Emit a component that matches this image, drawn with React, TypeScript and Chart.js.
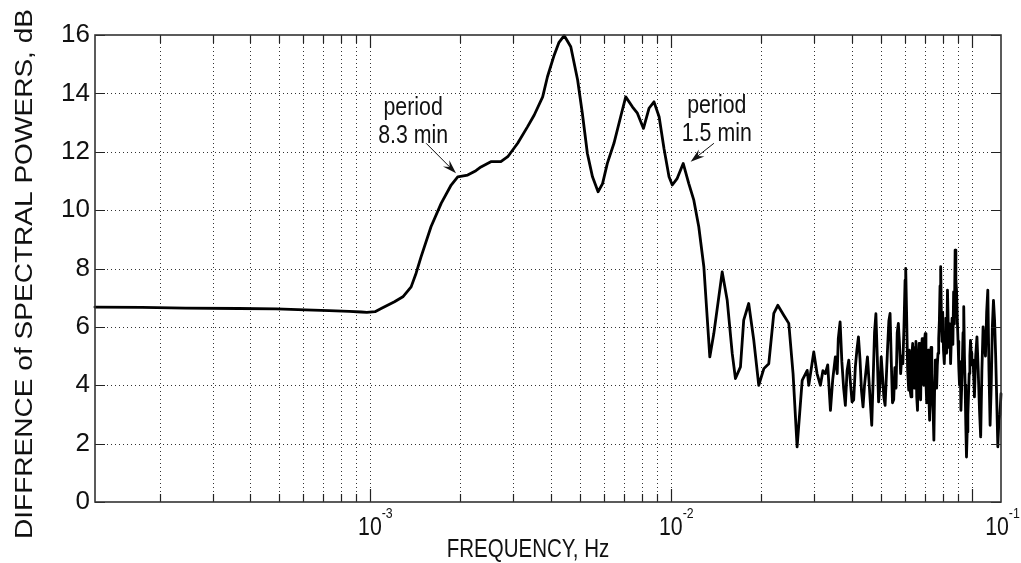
import React, { useEffect, useRef } from "react";
import { Chart, registerables } from "chart.js";

Chart.register(...registerables);

// ---- data ----
// low-frequency part: flat level, rise and the main peaks
const LOW_FREQ_HZ: number[] = [
  1.22e-4, 1.75e-4, 2.44e-4, 3.66e-4, 4.88e-4, 6.1e-4, 7.32e-4, 8.54e-4, 9.36e-4, 9.77e-4,
  1.04e-3, 1.09e-3, 1.207e-3, 1.287e-3, 1.371e-3, 1.424e-3, 1.479e-3, 1.596e-3, 1.725e-3, 1.862e-3,
  1.958e-3, 2.113e-3, 2.25e-3, 2.339e-3, 2.523e-3, 2.723e-3, 2.871e-3, 3.097e-3, 3.342e-3, 3.516e-3,
  3.75e-3, 3.89e-3, 4.095e-3, 4.25e-3, 4.42e-3, 4.65e-3, 4.9e-3, 5.08e-3, 5.28e-3, 5.49e-3,
  5.73e-3, 5.93e-3, 6.15e-3, 6.47e-3, 6.81e-3, 7.08e-3, 7.45e-3, 7.74e-3, 8.11e-3, 8.46e-3,
  8.79e-3, 9.14e-3, 9.49e-3, 9.86e-3,
];
const LOW_DB: number[] = [
  6.68, 6.67, 6.64, 6.63, 6.62, 6.58, 6.56, 6.53, 6.51, 6.5,
  6.52, 6.63, 6.86, 7.03, 7.37, 7.84, 8.4, 9.43, 10.23, 10.86,
  11.14, 11.2, 11.35, 11.48, 11.66, 11.66, 11.83, 12.29, 12.86, 13.26,
  13.88, 14.57, 15.31, 15.75, 15.98, 15.6, 14.46, 13.32, 11.94, 11.14,
  10.63, 10.91, 11.6, 12.29, 13.2, 13.88, 13.54, 13.32, 12.8, 13.49,
  13.71, 13.2, 12.1, 11.14,
];

// 0.01 – 0.036 Hz: fall-off and slow oscillations
const MID_FREQ_HZ: number[] = [
  1.011e-2, 1.05e-2, 1.099e-2, 1.147e-2, 1.192e-2, 1.238e-2, 1.287e-2, 1.32e-2, 1.347e-2, 1.389e-2,
  1.481e-2, 1.539e-2, 1.599e-2, 1.639e-2, 1.703e-2, 1.746e-2, 1.814e-2, 1.886e-2, 1.959e-2, 2.037e-2,
  2.115e-2, 2.198e-2, 2.266e-2, 2.372e-2, 2.465e-2, 2.547e-2, 2.627e-2, 2.731e-2, 2.838e-2, 2.872e-2,
  2.984e-2, 3.06e-2, 3.14e-2, 3.2e-2, 3.26e-2, 3.32e-2, 3.39e-2, 3.45e-2, 3.52e-2, 3.57e-2,
];
const MID_DB: number[] = [
  10.86, 11.09, 11.6, 10.91, 10.34, 9.43, 8.06, 6.34, 4.97, 5.77,
  7.88, 6.91, 5.09, 4.23, 4.63, 6.23, 6.8, 5.54, 4.0, 4.57,
  4.74, 6.46, 6.74, 6.4, 6.12, 4.4, 1.89, 4.17, 4.51, 4.0,
  5.14, 4.4, 4.0, 4.5, 4.4, 4.7, 3.14, 4.2, 4.97, 4.4,
];

// 0.036 – 0.062 Hz: noisy band
const NOISE1_FREQ_HZ: number[] = [
  0.036, 0.0365, 0.037, 0.0375, 0.038, 0.0385, 0.039, 0.0395, 0.04, 0.0405,
  0.041, 0.0415, 0.042, 0.0425, 0.043, 0.0435, 0.044, 0.0445, 0.045, 0.0455,
  0.046, 0.0465, 0.047, 0.0475, 0.048, 0.0485, 0.049, 0.0495, 0.05, 0.0505,
  0.051, 0.0515, 0.052, 0.0525, 0.053, 0.0535, 0.054, 0.0545, 0.055, 0.0555,
  0.056, 0.0565, 0.057, 0.0575, 0.058, 0.0585, 0.059, 0.0595, 0.06, 0.0603,
  0.0607, 0.0612, 0.0617,
];
const NOISE1_DB: number[] = [
  5.6, 6.17, 4.8, 3.9, 3.31, 4.5, 4.86, 4.1, 3.43, 3.5,
  4.6, 5.2, 5.66, 4.9, 3.8, 3.26, 4.0, 4.5, 4.97, 4.2,
  3.4, 2.63, 4.2, 5.8, 6.45, 5.0, 3.43, 4.0, 4.97, 4.3,
  3.6, 3.31, 4.3, 5.3, 6.2, 6.46, 4.8, 3.4, 3.5, 4.6,
  3.9, 5.8, 6.12, 5.4, 4.4, 5.0, 4.74, 6.0, 7.6, 8.0,
  6.5, 4.5, 3.83,
];

// 0.062 – 0.08 Hz: dense band
const NOISE2_FREQ_HZ: number[] = [
  0.062, 0.0624, 0.0628, 0.0632, 0.0636, 0.064, 0.0644, 0.0648, 0.0652, 0.0656,
  0.066, 0.0664, 0.0668, 0.0672, 0.0676, 0.068, 0.0684, 0.0688, 0.0692, 0.0696,
  0.07, 0.0704, 0.0708, 0.0712, 0.0716, 0.072, 0.0724, 0.0728, 0.0732, 0.0736,
  0.074, 0.0744, 0.0748, 0.0752, 0.0756, 0.076, 0.0764, 0.0768, 0.0772, 0.0776,
  0.078, 0.0784, 0.0788, 0.0792, 0.0796,
];
const NOISE2_DB: number[] = [
  5.2, 3.8, 3.6, 5.0, 5.43, 4.2, 3.9, 5.3, 5.5, 3.6,
  3.14, 4.8, 5.43, 3.9, 3.5, 5.2, 5.6, 4.3, 4.0, 5.5,
  5.77, 4.1, 3.4, 4.9, 5.2, 3.6, 2.8, 4.6, 5.3, 4.4,
  3.4, 3.0, 2.12, 3.8, 4.86, 4.2, 3.9, 4.7, 5.09, 5.6,
  6.2, 7.4, 8.06, 6.4, 5.5,
];

// 0.08 – 0.1 Hz: dense band
const NOISE3_FREQ_HZ: number[] = [
  0.08, 0.0805, 0.081, 0.0815, 0.082, 0.0825, 0.083, 0.0835, 0.084, 0.0845,
  0.085, 0.0855, 0.086, 0.0865, 0.087, 0.0875, 0.088, 0.0885, 0.089, 0.0895,
  0.09, 0.0905, 0.091, 0.0915, 0.092, 0.0925, 0.093, 0.0935, 0.094, 0.0945,
  0.095, 0.0955, 0.096, 0.0965, 0.097, 0.0975, 0.098, 0.0985, 0.099, 0.0995,
];
const NOISE3_DB: number[] = [
  6.5, 5.2, 4.74, 5.6, 6.3, 5.1, 7.26, 6.0, 5.3, 6.1,
  4.74, 5.6, 6.3, 5.4, 7.2, 6.1, 8.63, 7.6, 7.2, 6.2,
  5.5, 4.6, 4.0, 4.8, 3.14, 3.9, 4.8, 5.8, 6.69, 5.0,
  4.0, 2.6, 1.54, 2.4, 3.0, 3.7, 4.4, 5.0, 5.54, 5.1,
];

// 0.1 – 0.125 Hz: highest frequencies
const NOISE4_FREQ_HZ: number[] = [
  0.1, 0.101, 0.102, 0.103, 0.104, 0.105, 0.106, 0.107, 0.108, 0.109,
  0.11, 0.111, 0.112, 0.113, 0.114, 0.115, 0.116, 0.117, 0.118, 0.119,
  0.12, 0.121, 0.122, 0.123, 0.124, 0.125,
];
const NOISE4_DB: number[] = [
  4.7, 4.86, 3.6, 5.0, 5.66, 4.5, 3.2, 2.23, 4.5, 6.0,
  5.4, 5.0, 6.5, 7.26, 4.5, 2.63, 4.0, 6.0, 6.91, 6.23,
  5.0, 3.5, 1.89, 2.8, 3.0, 3.71,
];

const FREQ_HZ: number[] = [
  ...LOW_FREQ_HZ, ...MID_FREQ_HZ, ...NOISE1_FREQ_HZ, ...NOISE2_FREQ_HZ, ...NOISE3_FREQ_HZ,
  ...NOISE4_FREQ_HZ,
];
const DIFF_DB: number[] = [
  ...LOW_DB, ...MID_DB, ...NOISE1_DB, ...NOISE2_DB, ...NOISE3_DB, ...NOISE4_DB,
];

const Y_TICKS: number[] = [0, 2, 4, 6, 8, 10, 12, 14, 16];
const X_MIN = 1 / 8192;
const X_MAX = 1 / 8;
const X_DECADE_BASES: number[] = [1e-4, 1e-3, 1e-2, 1e-1];
const X_MINOR_MULTS: number[] = [1, 2, 3, 4, 5, 6, 7, 8, 9];
const X_MAJOR_VALUES: number[] = [1e-3, 1e-2, 1e-1];
const X_LABEL_VALUES: number[] = [1e-3, 1e-2, X_MAX];
const X_LABEL_EXPONENTS: string[] = ["-3", "-2", "-1"];
const X_TITLE = "FREQUENCY, Hz";
const Y_TITLE = "DIFFRENCE of SPECTRAL POWERS, dB";

const ANNOT_LINES: string[][] = [["period", "8.3 min"], ["period", "1.5 min"]];
const ANNOT_TEXT_AT: number[][] = [[1.392e-3, 13.26], [1.421e-2, 13.33]];
const ANNOT_ARROW_FROM: number[][] = [[1.538e-3, 12.29], [1.39e-2, 12.29]];
const ANNOT_ARROW_TO: number[][] = [[1.933e-3, 11.26], [1.1634e-2, 11.66]];

// ---- helpers ----
function hasFont(name: string): boolean {
  const c = document.createElement("canvas").getContext("2d");
  if (!c) return false;
  c.font = "40px monospace";
  const a = c.measureText("mmmWWiil10").width;
  c.font = `40px '${name}', monospace`;
  return Math.abs(c.measureText("mmmWWiil10").width - a) > 0.5;
}

const HAS_NARROW = typeof document !== "undefined" && hasFont("Liberation Sans Narrow");
const NARROW_FAMILY = HAS_NARROW ? "'Liberation Sans Narrow'" : "'Liberation Sans', Arial, sans-serif";
const NARROW_SX = HAS_NARROW ? 1 : 0.82;
const TEXT_COLOR = "#111";

function drawText(
  ctx: CanvasRenderingContext2D,
  s: string,
  x: number,
  y: number,
  size: number,
  align: "left" | "center" | "right",
  sx: number = NARROW_SX,
  family: string = NARROW_FAMILY
): number {
  ctx.save();
  ctx.font = `${size}px ${family}`;
  ctx.textBaseline = "alphabetic";
  ctx.textAlign = "left";
  const w = ctx.measureText(s).width * sx;
  const x0 = align === "center" ? x - w / 2 : align === "right" ? x - w : x;
  ctx.translate(x0, y);
  ctx.scale(sx, 1);
  ctx.fillStyle = TEXT_COLOR;
  ctx.fillText(s, 0, 0);
  ctx.restore();
  return w;
}

function gridXValues(): number[] {
  const out: number[] = [];
  for (const b of X_DECADE_BASES) {
    for (const m of X_MINOR_MULTS) {
      const v = b * m;
      if (v > X_MIN * 1.0001 && v < X_MAX * 0.9999) out.push(v);
    }
  }
  return out;
}

const framePlugin = {
  id: "matlabFrame",
  beforeDatasetsDraw(chart: any) {
    const { ctx, chartArea: a, scales } = chart;
    const xs = scales.x;
    const ys = scales.y;
    ctx.save();
    ctx.strokeStyle = "rgba(0,0,0,0.8)";
    ctx.lineWidth = 1;
    ctx.setLineDash([1, 3]);
    for (const v of gridXValues()) {
      const px = Math.round(xs.getPixelForValue(v)) + 0.5;
      ctx.beginPath();
      ctx.moveTo(px, a.top);
      ctx.lineTo(px, a.bottom);
      ctx.stroke();
    }
    for (const v of Y_TICKS) {
      if (v <= 0 || v >= 16) continue;
      const py = Math.round(ys.getPixelForValue(v)) + 0.5;
      ctx.beginPath();
      ctx.moveTo(a.left, py);
      ctx.lineTo(a.right, py);
      ctx.stroke();
    }
    ctx.restore();
  },
  afterDatasetsDraw(chart: any) {
    const { ctx, chartArea: a, scales } = chart;
    const xs = scales.x;
    const ys = scales.y;
    ctx.save();
    // inward ticks
    ctx.strokeStyle = "#222";
    ctx.lineWidth = 1.2;
    ctx.setLineDash([]);
    for (const v of gridXValues()) {
      const px = Math.round(xs.getPixelForValue(v)) + 0.5;
      const major = X_MAJOR_VALUES.some((m) => Math.abs(m - v) / m < 1e-6);
      const len = major ? 13 : 8;
      ctx.beginPath();
      ctx.moveTo(px, a.bottom);
      ctx.lineTo(px, a.bottom - len);
      ctx.moveTo(px, a.top);
      ctx.lineTo(px, a.top + len);
      ctx.stroke();
    }
    for (const v of Y_TICKS) {
      const py = Math.round(ys.getPixelForValue(v)) + 0.5;
      ctx.beginPath();
      ctx.moveTo(a.left, py);
      ctx.lineTo(a.left + 10, py);
      ctx.moveTo(a.right, py);
      ctx.lineTo(a.right - 10, py);
      ctx.stroke();
    }
    // frame
    ctx.strokeStyle = "#333";
    ctx.lineWidth = 1.6;
    ctx.strokeRect(a.left, a.top, a.right - a.left, a.bottom - a.top);

    // x tick labels (10 with superscript exponent)
    X_LABEL_VALUES.forEach((v, i) => {
      let px = xs.getPixelForValue(v);
      ctx.save();
      ctx.font = `26px ${NARROW_FAMILY}`;
      const w10 = ctx.measureText("10").width * NARROW_SX;
      ctx.restore();
      if (px + w10 / 2 + 14 > a.right + 20) px = a.right - 4;
      drawText(ctx, "10", px - w10 / 2, a.bottom + 33, 26, "left");
      drawText(ctx, X_LABEL_EXPONENTS[i], px + w10 / 2, a.bottom + 16, 15, "left");
    });

    // x title
    drawText(ctx, X_TITLE, 528, a.bottom + 55, 25, "center");

    // y title (vertical)
    ctx.save();
    ctx.font = "23px 'Liberation Sans', Arial, sans-serif";
    const wy = ctx.measureText(Y_TITLE).width;
    ctx.translate(32, 274);
    ctx.rotate(-Math.PI / 2);
    ctx.scale(530 / wy, 1);
    ctx.fillStyle = TEXT_COLOR;
    ctx.textAlign = "center";
    ctx.textBaseline = "alphabetic";
    ctx.fillText(Y_TITLE, 0, 0);
    ctx.restore();

    // annotations
    ANNOT_LINES.forEach((lines, i) => {
      const tx = xs.getPixelForValue(ANNOT_TEXT_AT[i][0]);
      const ty = ys.getPixelForValue(ANNOT_TEXT_AT[i][1]);
      lines.forEach((ln, j) => {
        drawText(ctx, ln, tx, ty + j * 28.5, 26, "center");
      });
      const x1 = xs.getPixelForValue(ANNOT_ARROW_FROM[i][0]);
      const y1 = ys.getPixelForValue(ANNOT_ARROW_FROM[i][1]);
      const x2 = xs.getPixelForValue(ANNOT_ARROW_TO[i][0]);
      const y2 = ys.getPixelForValue(ANNOT_ARROW_TO[i][1]);
      const ang = Math.atan2(y2 - y1, x2 - x1);
      const hl = 14;
      const hw = 4.5;
      ctx.strokeStyle = "#111";
      ctx.lineWidth = 1;
      ctx.beginPath();
      ctx.moveTo(x1, y1);
      ctx.lineTo(x2 - Math.cos(ang) * hl * 0.6, y2 - Math.sin(ang) * hl * 0.6);
      ctx.stroke();
      ctx.fillStyle = "#111";
      ctx.beginPath();
      ctx.moveTo(x2, y2);
      ctx.lineTo(
        x2 - Math.cos(ang) * hl - Math.sin(ang) * hw,
        y2 - Math.sin(ang) * hl + Math.cos(ang) * hw
      );
      ctx.lineTo(x2 - Math.cos(ang) * hl * 0.65, y2 - Math.sin(ang) * hl * 0.65);
      ctx.lineTo(
        x2 - Math.cos(ang) * hl + Math.sin(ang) * hw,
        y2 - Math.sin(ang) * hl - Math.cos(ang) * hw
      );
      ctx.closePath();
      ctx.fill();
    });
    ctx.restore();
  },
};

export default function App() {
  const canvasRef = useRef<HTMLCanvasElement | null>(null);

  useEffect(() => {
    if (!canvasRef.current) return;
    const points = FREQ_HZ.map((f, i) => ({ x: f, y: DIFF_DB[i] }));
    const chart = new Chart(canvasRef.current, {
      type: "line",
      data: {
        datasets: [
          {
            data: points,
            borderColor: "#000",
            borderWidth: 2.8,
            pointRadius: 0,
            tension: 0,
            borderJoinStyle: "round",
            borderCapStyle: "round",
            clip: false,
          } as any,
        ],
      },
      options: {
        animation: false,
        responsive: false,
        maintainAspectRatio: false,
        devicePixelRatio: 1,
        layout: { padding: { left: 0, top: 35, right: 20, bottom: 61 } },
        plugins: { legend: { display: false }, tooltip: { enabled: false } },
        scales: {
          x: {
            type: "logarithmic",
            min: X_MIN,
            max: X_MAX,
            display: false,
          },
          y: {
            type: "linear",
            min: 0,
            max: 16,
            afterBuildTicks: (s: any) => {
              s.ticks = Y_TICKS.map((v) => ({ value: v }));
            },
            afterFit: (s: any) => {
              s.width = 95;
            },
            ticks: {
              color: TEXT_COLOR,
              padding: 5,
              font: { family: "'Liberation Sans Narrow', 'Liberation Sans', Arial, sans-serif", size: 26 },
              callback: (v: any) => String(v),
            },
            grid: { display: false, drawTicks: false },
            border: { display: false },
          },
        },
      } as any,
      plugins: [framePlugin],
    });
    return () => chart.destroy();
  }, []);

  return (
    <div style={{ position: "fixed", left: 0, top: 0, width: 1021, height: 563, background: "#fff" }}>
      <canvas ref={canvasRef} width={1021} height={563} style={{ display: "block" }} />
    </div>
  );
}
